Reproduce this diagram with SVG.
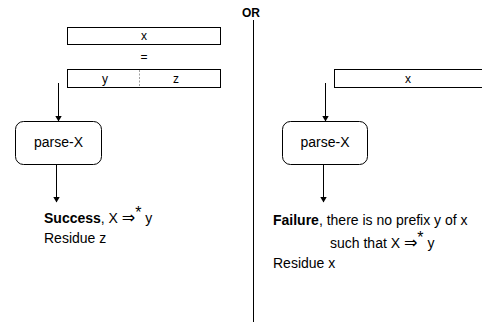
<svg xmlns="http://www.w3.org/2000/svg" width="482" height="324" viewBox="0 0 482 324">
<style>
text{font-family:"Liberation Sans",Arial,sans-serif;fill:#000}
.t{font-size:14px}
.s{font-size:12px;text-anchor:middle}
.b{font-weight:bold}
.ar{font-family:"DejaVu Sans",sans-serif;font-size:16px}
.st{font-size:16px}
.box{fill:#fff;stroke:#000;stroke-width:1}
.ln{stroke:#000;stroke-width:1;fill:none}
</style>
<defs>
<marker id="ah" markerWidth="6" markerHeight="7" refX="5.5" refY="3.5" orient="auto" markerUnits="userSpaceOnUse">
<path d="M0,0 L6,3.5 L0,7 Z" fill="#000"/>
</marker>
</defs>
<g id="divider">
<text x="251" y="17" class="b" font-size="12" text-anchor="middle">OR</text>
<line x1="253.5" y1="20" x2="253.5" y2="322" class="ln"/>
</g>
<g id="input-left">
<rect x="67.5" y="27.5" width="153" height="17" class="box"/>
<text x="144" y="40" class="s">x</text>
<text x="144" y="61" class="s">=</text>
<rect x="67.5" y="69.5" width="153" height="18" class="box"/>
<line x1="139.5" y1="70" x2="139.5" y2="87" stroke="#888" stroke-width="0.8" stroke-dasharray="2,1.5"/>
<text x="105" y="83" class="s">y</text>
<text x="176" y="83" class="s">z</text>
</g>
<g id="parse-left">
<rect x="15.5" y="121.5" width="86" height="43" rx="8" class="box"/>
<text x="58.5" y="147" class="t" text-anchor="middle">parse-X</text>
</g>
<g id="result-left">
<text x="44" y="223" class="t"><tspan class="b">Success</tspan>, X <tspan class="ar">⇒</tspan><tspan dy="-5" class="st">*</tspan><tspan dy="5"> y</tspan></text>
<text x="44" y="243" class="t">Residue z</text>
</g>
<g id="input-right">
<rect x="334.5" y="69.5" width="150" height="18" class="box"/>
<text x="408" y="83" class="s">x</text>
</g>
<g id="parse-right">
<rect x="282.5" y="121.5" width="85" height="43" rx="8" class="box"/>
<text x="325" y="147" class="t" text-anchor="middle">parse-X</text>
</g>
<g id="result-right">
<text x="273" y="225" class="t"><tspan class="b">Failure</tspan>, there is no prefix y of x</text>
<text x="330" y="248" class="t">such that X <tspan class="ar">⇒</tspan><tspan dy="-5" class="st">*</tspan><tspan dy="5"> y</tspan></text>
<text x="273" y="268" class="t">Residue x</text>
</g>
<g id="connectors">
<line x1="58.5" y1="83" x2="58.5" y2="121" class="ln" marker-end="url(#ah)"/>
<line x1="56.5" y1="165" x2="56.5" y2="202" class="ln" marker-end="url(#ah)"/>
<line x1="325.5" y1="83" x2="325.5" y2="121" class="ln" marker-end="url(#ah)"/>
<line x1="323.5" y1="165" x2="323.5" y2="202" class="ln" marker-end="url(#ah)"/>
</g>
</svg>
